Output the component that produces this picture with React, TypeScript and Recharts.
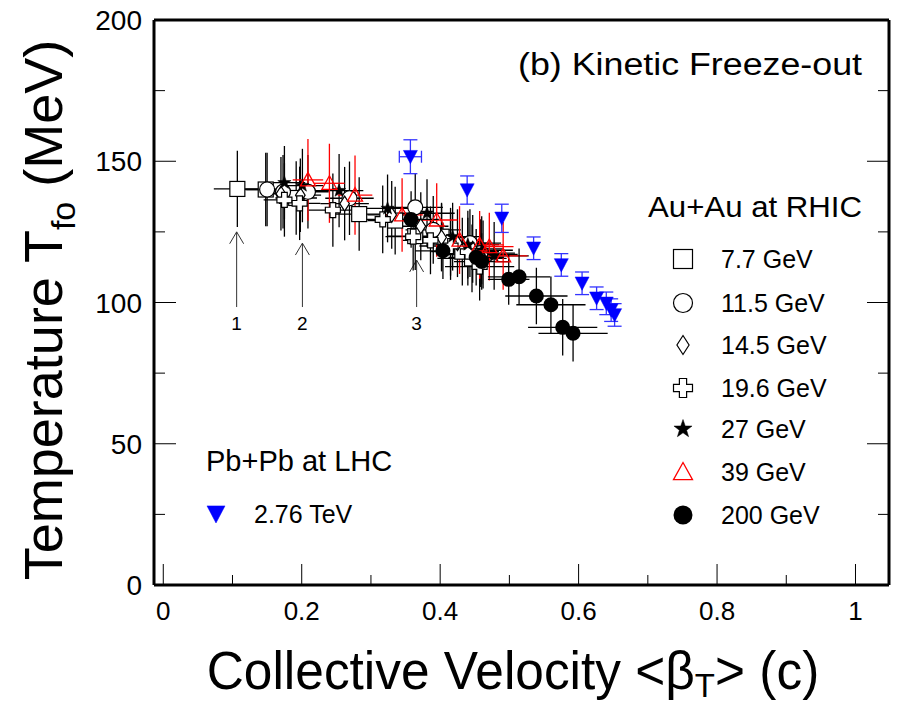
import React from 'react';
import { ScatterChart, Scatter, XAxis, YAxis, ErrorBar, ReferenceLine, ReferenceDot } from 'recharts';

const FONT = '"Liberation Sans", Arial, Helvetica, sans-serif';

// Au+Au 7.7 GeV
const beta7 = [0.107, 0.148, 0.192, 0.283, 0.335, 0.364, 0.402, 0.432, 0.446];
const temp7 = [140.2, 140.0, 137.0, 131.3, 129.0, 123.5, 123.3, 118.0, 115.6];
const betaErr7 = [0.034, 0.03, 0.03, 0.035, 0.04, 0.04, 0.045, 0.045, 0.05];
const tempErr7 = [13.5, 13, 13, 13, 12, 12, 12, 12, 12];

// Au+Au 11.5 GeV
const beta11 = [0.15, 0.173, 0.209, 0.269, 0.364, 0.39, 0.415, 0.443, 0.458];
const temp11 = [140.0, 139.2, 139.2, 136.9, 133.7, 125.7, 121.5, 121.0, 117.5];
const betaErr11 = [0.03, 0.03, 0.03, 0.035, 0.04, 0.04, 0.045, 0.045, 0.05];
const tempErr11 = [13, 13, 13, 13, 12, 12, 12, 12, 12];

// Au+Au 14.5 GeV
const beta14 = [0.17, 0.198, 0.262, 0.33, 0.372, 0.402, 0.425, 0.447, 0.462];
const temp14 = [138.5, 138.0, 135.0, 131.0, 127.0, 123.0, 121.0, 119.0, 117.0];
const betaErr14 = [0.03, 0.03, 0.035, 0.035, 0.04, 0.04, 0.045, 0.045, 0.05];
const tempErr14 = [13, 13, 13, 12, 12, 12, 12, 12, 12];

// Au+Au 19.6 GeV
const beta19 = [0.175, 0.197, 0.245, 0.317, 0.361, 0.386, 0.415, 0.44, 0.457];
const temp19 = [136.3, 135.1, 132.7, 129.4, 123.3, 122.0, 120.0, 118.0, 112.7];
const betaErr19 = [0.03, 0.03, 0.035, 0.035, 0.04, 0.04, 0.045, 0.045, 0.05];
const tempErr19 = [13, 13, 13, 12, 12, 12, 12, 12, 12];

// Au+Au 27 GeV
const beta27 = [0.175, 0.201, 0.254, 0.324, 0.381, 0.418, 0.44, 0.46, 0.478];
const temp27 = [142.4, 141.4, 139.6, 133.3, 131.6, 123.3, 120.5, 118.5, 116.5];
const betaErr27 = [0.03, 0.03, 0.035, 0.035, 0.04, 0.04, 0.045, 0.045, 0.05];
const tempErr27 = [13, 13, 13, 12, 12, 12, 12, 12, 12];

// Au+Au 39 GeV
const beta39 = [0.209, 0.24, 0.277, 0.345, 0.395, 0.428, 0.457, 0.471, 0.491];
const temp39 = [143.4, 142.2, 138.0, 131.0, 129.2, 122.1, 120.4, 119.8, 116.5];
const betaErr39 = [0.022, 0.022, 0.025, 0.03, 0.03, 0.03, 0.035, 0.035, 0.035];
const tempErr39 = [14.5, 14, 14, 13, 13, 12, 12, 12, 12];

// Au+Au 200 GeV
const beta200 = [0.358, 0.404, 0.452, 0.46, 0.499, 0.514, 0.539, 0.56, 0.577, 0.592];
const temp200 = [129.4, 118.3, 116.0, 114.5, 108.2, 109.1, 102.3, 99.2, 91.2, 89.1];
const betaErr200 = [0.04, 0.04, 0.04, 0.04, 0.03, 0.045, 0.045, 0.05, 0.05, 0.05];
const tempErr200 = [10, 10, 10, 10, 9, 10, 10, 10, 10, 10];

// Pb+Pb 2.76 TeV
const betaLhc = [0.357, 0.439, 0.489, 0.535, 0.575, 0.605, 0.626, 0.64, 0.647, 0.652];
const tempLhc = [151.6, 139.8, 129.8, 119.2, 113.3, 106.8, 101.5, 99.7, 97.3, 95.6];
const betaErrLhc = [0.016, 0, 0, 0, 0, 0, 0, 0, 0, 0];
const tempErrLhc = [6, 5, 5, 4, 4, 4, 4, 4, 4, 4];

// arrows 1, 2, 3
const arrowBeta = [0.106, 0.201, 0.366];
const arrowTip = [125, 121, 115];
const arrowTail = 98.4;
const arrowLabelT = 92.7;
const arrowNames = ['1', '2', '3'];

const xTicks = [0, 0.1, 0.2, 0.3, 0.4, 0.5, 0.6, 0.7, 0.8, 0.9, 1.0];
const yTicks = [0, 25, 50, 75, 100, 125, 150, 175, 200];

const zip = (b: number[], t: number[], eb: number[], et: number[]) =>
  b.map((x, i) => ({ x, y: t[i], ex: eb[i], ey: et[i] }));

type Draw = (cx: number, cy: number, s: number) => React.ReactElement;

const drawSquare: Draw = (cx, cy, s) => (
  <rect x={cx - s / 2} y={cy - s / 2} width={s} height={s} fill="#fff" stroke="#000" strokeWidth={1.2} />
);
const drawCircle: Draw = (cx, cy, s) => (
  <circle cx={cx} cy={cy} r={s / 2} fill="#fff" stroke="#000" strokeWidth={1.2} />
);
const drawDiamond: Draw = (cx, cy, s) => (
  <polygon
    points={`${cx},${cy - s / 2} ${cx + s * 0.32},${cy} ${cx},${cy + s / 2} ${cx - s * 0.32},${cy}`}
    fill="#fff" stroke="#000" strokeWidth={1.2}
  />
);
const drawCross: Draw = (cx, cy, s) => {
  const h = s / 2;
  const w = s * 0.19;
  const p = [[-w, -h], [w, -h], [w, -w], [h, -w], [h, w], [w, w], [w, h], [-w, h], [-w, w], [-h, w], [-h, -w], [-w, -w]];
  return <polygon points={p.map(([a, b]) => `${cx + a},${cy + b}`).join(' ')} fill="#fff" stroke="#000" strokeWidth={1.2} />;
};
const drawStar: Draw = (cx, cy, s) => {
  const pts: string[] = [];
  for (let i = 0; i < 10; i++) {
    const r = i % 2 === 0 ? s / 2 : s * 0.2;
    const a = -Math.PI / 2 + (i * Math.PI) / 5;
    pts.push(`${cx + r * Math.cos(a)},${cy + r * Math.sin(a)}`);
  }
  return <polygon points={pts.join(' ')} fill="#000" stroke="#000" strokeWidth={0.5} />;
};
const drawTriUp: Draw = (cx, cy, s) => (
  <polygon
    points={`${cx},${cy - s * 0.5} ${cx + s / 2},${cy + s * 0.4} ${cx - s / 2},${cy + s * 0.4}`}
    fill="none" stroke="#f00" strokeWidth={1.3}
  />
);
const drawDot: Draw = (cx, cy, s) => <circle cx={cx} cy={cy} r={s / 2} fill="#000" />;
const drawTriDown: Draw = (cx, cy, s) => (
  <polygon
    points={`${cx - s / 2},${cy - s * 0.45} ${cx + s / 2},${cy - s * 0.45} ${cx},${cy + s * 0.5}`}
    fill="#00f" stroke="#00f" strokeWidth={0.5}
  />
);

const shapeOf = (draw: Draw, s: number) => (props: any) => {
  const { cx, cy } = props;
  if (cx == null || cy == null) return <g />;
  return draw(cx, cy, s);
};

const fmtX = (v: number) => (v === 0 ? '0' : v === 1 ? '1' : v.toFixed(1));

const BottomTick = (props: any) => {
  const { x, y, payload } = props;
  const v = payload.value;
  const major = Math.round(v * 10) % 2 === 0;
  return (
    <g>
      <line x1={x} x2={x} y1={y} y2={y - (major ? 21 : 10)} stroke="#000" strokeWidth={1} />
      {major && (
        <text x={x} y={y + 35} textAnchor="middle" fontSize={26} fontFamily={FONT} fill="#000">
          {fmtX(v)}
        </text>
      )}
    </g>
  );
};
const TopTick = (props: any) => {
  const { x, y, payload } = props;
  const major = Math.round(payload.value * 10) % 2 === 0;
  return <line x1={x} x2={x} y1={y} y2={y + (major ? 21 : 10)} stroke="#000" strokeWidth={1} />;
};
const LeftTick = (props: any) => {
  const { x, y, payload } = props;
  const v = payload.value;
  const major = v % 50 === 0;
  return (
    <g>
      <line x1={x} x2={x + (major ? 22 : 11)} y1={y} y2={y} stroke="#000" strokeWidth={1} />
      {major && (
        <text x={x - 12} y={y + 10} textAnchor="end" fontSize={28} fontFamily={FONT} fill="#000">
          {v}
        </text>
      )}
    </g>
  );
};
const RightTick = (props: any) => {
  const { x, y, payload } = props;
  const major = payload.value % 50 === 0;
  return <line x1={x} x2={x - (major ? 22 : 11)} y1={y} y2={y} stroke="#000" strokeWidth={1} />;
};

const auSeries = [
  { name: '7.7 GeV', data: zip(beta7, temp7, betaErr7, tempErr7), draw: drawSquare, size: 15, err: '#000' },
  { name: '11.5 GeV', data: zip(beta11, temp11, betaErr11, tempErr11), draw: drawCircle, size: 15, err: '#000' },
  { name: '14.5 GeV', data: zip(beta14, temp14, betaErr14, tempErr14), draw: drawDiamond, size: 15, err: '#000' },
  { name: '19.6 GeV', data: zip(beta19, temp19, betaErr19, tempErr19), draw: drawCross, size: 15, err: '#000' },
  { name: '27 GeV', data: zip(beta27, temp27, betaErr27, tempErr27), draw: drawStar, size: 14, err: '#000' },
  { name: '39 GeV', data: zip(beta39, temp39, betaErr39, tempErr39), draw: drawTriUp, size: 15, err: '#f00' },
  { name: '200 GeV', data: zip(beta200, temp200, betaErr200, tempErr200), draw: drawDot, size: 15, err: '#000' },
];
const lhcData = zip(betaLhc, tempLhc, betaErrLhc, tempErrLhc);

const legendRows = [259, 303, 345, 388, 429, 472, 515];

export default function App() {
  return (
    <div style={{ position: 'relative', width: 898, height: 703, fontFamily: FONT, background: '#fff' }}>
      <style>{'body{margin:0;background:#fff}'}</style>
      <ScatterChart width={898} height={703} margin={{ top: 10, right: 1, bottom: 78, left: 94 }}>
        <XAxis
          type="number" dataKey="x" xAxisId={0} domain={[-0.0134, 1.0484]} allowDataOverflow
          ticks={xTicks} interval={0} tickSize={0} tickMargin={0} height={40}
          axisLine={{ stroke: '#000', strokeWidth: 3 }} tickLine={false} tick={<BottomTick />}
        />
        <XAxis
          type="number" xAxisId="top" orientation="top" domain={[-0.0134, 1.0484]} allowDataOverflow
          ticks={xTicks} interval={0} tickSize={0} tickMargin={0} height={10}
          axisLine={{ stroke: '#000', strokeWidth: 3 }} tickLine={false} tick={<TopTick />}
        />
        <YAxis
          type="number" dataKey="y" yAxisId={0} domain={[0, 200]} allowDataOverflow
          ticks={yTicks} interval={0} tickSize={0} tickMargin={0} width={60}
          axisLine={{ stroke: '#000', strokeWidth: 3 }} tickLine={false} tick={<LeftTick />}
        />
        <YAxis
          type="number" yAxisId="right" orientation="right" domain={[0, 200]} allowDataOverflow
          ticks={yTicks} interval={0} tickSize={0} tickMargin={0} width={8}
          axisLine={{ stroke: '#000', strokeWidth: 3 }} tickLine={false} tick={<RightTick />}
        />

        {arrowBeta.map((b, i) => (
          <ReferenceLine key={`a${i}`} segment={[{ x: b, y: arrowTail }, { x: b, y: arrowTip[i] }]} stroke="#333" strokeWidth={1} />
        ))}
        {arrowBeta.map((b, i) => (
          <ReferenceLine key={`l${i}`} segment={[{ x: b - 0.0101, y: arrowTip[i] - 4.2 }, { x: b, y: arrowTip[i] }]} stroke="#333" strokeWidth={1} />
        ))}
        {arrowBeta.map((b, i) => (
          <ReferenceLine key={`r${i}`} segment={[{ x: b + 0.0101, y: arrowTip[i] - 4.2 }, { x: b, y: arrowTip[i] }]} stroke="#333" strokeWidth={1} />
        ))}
        {arrowBeta.map((b, i) => (
          <ReferenceDot
            key={`n${i}`} x={b} y={arrowLabelT} r={0} fill="none" stroke="none"
            label={{ value: arrowNames[i], position: 'center', fontSize: 19, fill: '#000', fontFamily: FONT }}
          />
        ))}

        {auSeries.map((s) => (
          <Scatter key={s.name} name={s.name} data={s.data} isAnimationActive={false} shape={shapeOf(s.draw, s.size)}>
            <ErrorBar dataKey="ex" direction="x" width={0} stroke={s.err} strokeWidth={1.3} />
            <ErrorBar dataKey="ey" direction="y" width={0} stroke={s.err} strokeWidth={1.3} />
          </Scatter>
        ))}
        <Scatter name="2.76 TeV" data={lhcData} isAnimationActive={false} shape={shapeOf(drawTriDown, 14)}>
          <ErrorBar dataKey="ex" direction="x" width={6} stroke="#33f" strokeWidth={1.3} />
          <ErrorBar dataKey="ey" direction="y" width={7} stroke="#33f" strokeWidth={1.3} />
        </Scatter>
      </ScatterChart>

      <svg width={898} height={703} style={{ position: 'absolute', left: 0, top: 0, pointerEvents: 'none' }} fontFamily={FONT}>
        <text transform="translate(62,310) rotate(-90)" textAnchor="middle" fontSize={54} fill="#000">
          Temperature T<tspan fontSize={34} dy={13}>fo</tspan>
          <tspan dy={-13}> (MeV)</tspan>
        </text>
        <g transform="translate(513,689) scale(0.97,1)">
          <text x={0} y={0} textAnchor="middle" fontSize={53} fill="#000">
            Collective Velocity &lt;β<tspan fontSize={34} dy={8}>T</tspan>
            <tspan dy={-8}>&gt; (c)</tspan>
          </text>
        </g>
        <text x={518} y={75} fontSize={31} textLength={344} lengthAdjust="spacingAndGlyphs" fill="#000">
          (b) Kinetic Freeze-out
        </text>
        <text x={648} y={217} fontSize={29} textLength={214} lengthAdjust="spacingAndGlyphs" fill="#000">
          Au+Au at RHIC
        </text>
        {auSeries.map((s, i) => (
          <g key={s.name}>
            {s.draw(683, legendRows[i], 19)}
            <text x={721} y={legendRows[i] + 9} fontSize={25} fill="#000">
              {s.name}
            </text>
          </g>
        ))}
        <text x={206} y={471} fontSize={29} fill="#000">
          Pb+Pb at LHC
        </text>
        {drawTriDown(216, 514, 18)}
        <text x={254} y={523} fontSize={25} fill="#000">
          2.76 TeV
        </text>
      </svg>
    </div>
  );
}
